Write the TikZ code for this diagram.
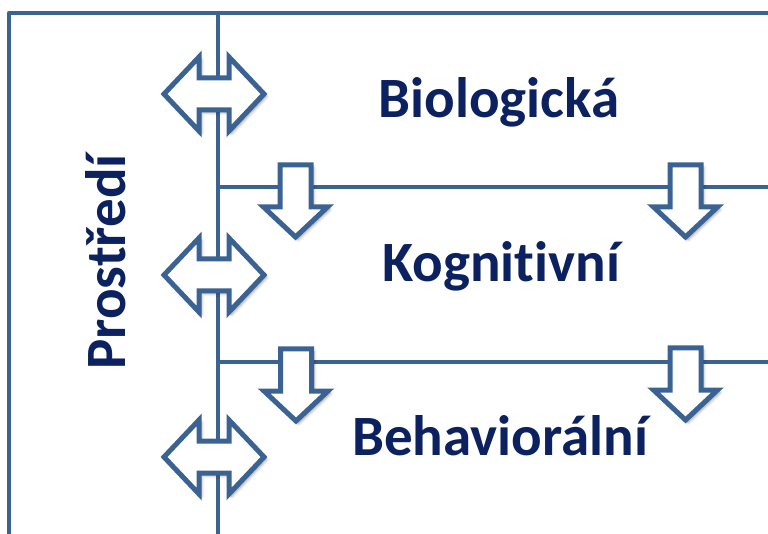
\documentclass[tikz,border=0pt]{standalone}
\usepackage{fontspec}
\setmainfont[Ligatures=NoCommon]{Carlito}
\usetikzlibrary{shadows.blur}
\definecolor{linec}{HTML}{3A6292}
\definecolor{textc}{HTML}{0C2160}
\tikzset{
  frameline/.style={draw=linec, line width=4.3pt, line join=round},
  arrowshape/.style={draw=linec, fill=white, line width=5pt, line join=miter,
    blur shadow={shadow xshift=2.5pt, shadow yshift=-2.5pt, shadow blur radius=3pt, shadow opacity=40}},
  label/.style={text=textc, font=\fontsize{57}{60}\selectfont\bfseries, anchor=base, inner sep=0pt}
}
\newcommand{\dblarrow}[2]{%
  \path[arrowshape] (#1-50,#2) -- (#1-15,#2-37) -- (#1-15,#2-16) -- (#1+15,#2-16) -- (#1+15,#2-37)
    -- (#1+50,#2) -- (#1+15,#2+37) -- (#1+15,#2+16) -- (#1-15,#2+16) -- (#1-15,#2+37) -- cycle;}
\newcommand{\downarrowshape}[2]{%
  \path[arrowshape] (#1-15.5,#2) -- (#1+15.5,#2) -- (#1+15.5,#2+42) -- (#1+32,#2+42) -- (#1,#2+72)
    -- (#1-32,#2+42) -- (#1-15.5,#2+42) -- cycle;}
\begin{document}
\begin{tikzpicture}[x=1pt, y=-1pt]
\useasboundingbox (0,0) rectangle (768,534);
% frame and connectors
\coordinate (bl) at (9,534);
\coordinate (tl) at (9,13);
\coordinate (tr) at (768,13);
\coordinate (vt) at (218,13);
\coordinate (vb) at (218,534);
\coordinate (h1a) at (218,187);
\coordinate (h1b) at (768,187);
\coordinate (h2a) at (218,362);
\coordinate (h2b) at (768,362);
\draw[frameline] (bl) -- (tl) -- (tr);
\draw[frameline] (vt) -- (vb);
\draw[frameline] (h1a) -- (h1b);
\draw[frameline] (h2a) -- (h2b);
% arrows
\dblarrow{214}{94}
\dblarrow{214}{275}
\dblarrow{214}{457}
\downarrowshape{295.5}{165}
\downarrowshape{685.5}{165}
\downarrowshape{296}{349}
\downarrowshape{685.5}{348}
% texts
\node[label] (bio) at (499,118) {Biologická};
\node[label] (kog) at (501,282) {Kognitivní};
\node[label] (beh) at (500,455) {Behaviorální};
\node[label, rotate=90] (pro) at (125,262) {Prostředí};
\end{tikzpicture}
\end{document}
